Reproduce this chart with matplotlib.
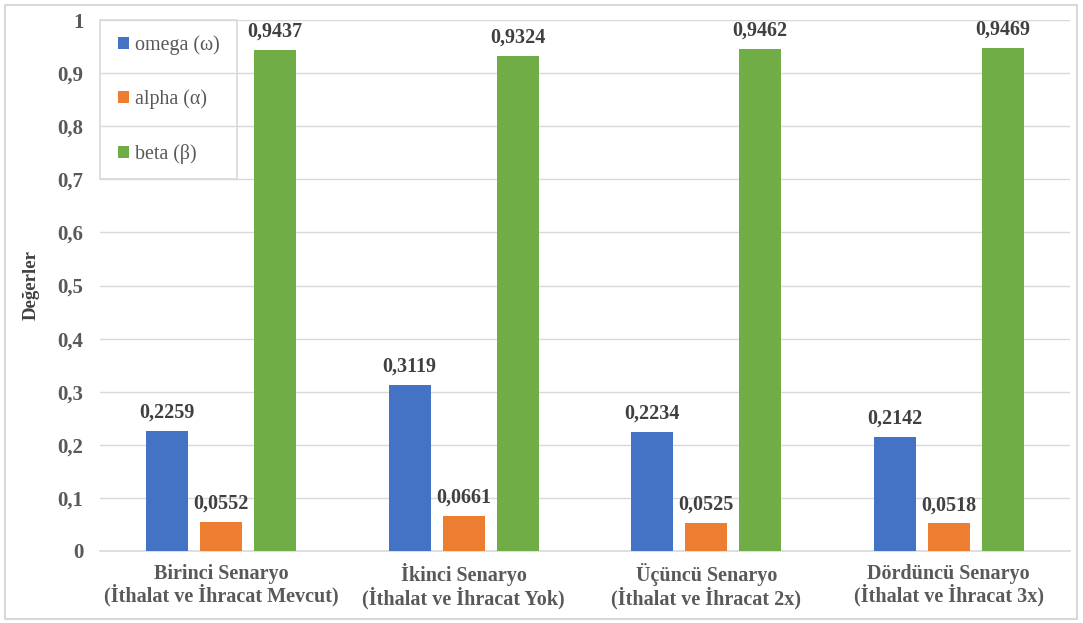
import matplotlib
matplotlib.use("Agg")
import matplotlib.pyplot as plt
from matplotlib.patches import Rectangle
import numpy as np

plt.rcParams['font.family'] = ['Liberation Serif', 'DejaVu Serif']

categories = [
    "Birinci Senaryo\n(İthalat ve İhracat Mevcut)",
    "İkinci Senaryo\n(İthalat ve İhracat Yok)",
    "Üçüncü Senaryo\n(İthalat ve İhracat 2x)",
    "Dördüncü Senaryo\n(İthalat ve İhracat 3x)",
]
series_names = ["omega (ω)", "alpha (α)", "beta (β)"]
omega = [0.2259, 0.3119, 0.2234, 0.2142]
alpha = [0.0552, 0.0661, 0.0525, 0.0518]
beta = [0.9437, 0.9324, 0.9462, 0.9469]
y_ticks = [0, 0.1, 0.2, 0.3, 0.4, 0.5, 0.6, 0.7, 0.8, 0.9, 1]

colors = ["#4472C4", "#ED7D31", "#70AD47"]
grid_c = "#D9D9D9"

fig = plt.figure(figsize=(10.83, 6.23), dpi=100)
ax = fig.add_axes([100 / 1083, 72 / 623, 970 / 1083, 531 / 623])

x = np.arange(len(categories))
width = 0.173
step = 0.2227
handles = []
for i, (vals, c) in enumerate(zip([omega, alpha, beta], colors)):
    bars = ax.bar(x + (i - 1) * step, vals, width, color=c, zorder=3)
    handles.append(bars)
    for b, v in zip(bars, vals):
        ax.annotate(f"{v:.4f}".replace(".", ","),
                    (b.get_x() + b.get_width() / 2, v),
                    xytext=(0, 6), textcoords="offset points",
                    ha="center", va="bottom", fontsize=14.5,
                    fontweight="bold", color="#404040")

ax.set_xlim(-0.5, len(categories) - 0.5)
ax.set_ylim(0, 1)
ax.set_yticks(y_ticks)
ax.set_yticklabels([("%g" % t).replace(".", ",") for t in y_ticks],
                   fontsize=15, fontweight="bold", color="#595959")
ax.set_xticks(x)
ax.set_xticklabels(categories, fontsize=14.5, fontweight="bold",
                   color="#595959", linespacing=1.0)
ax.tick_params(axis="both", length=0)
ax.tick_params(axis="y", pad=12)
ax.tick_params(axis="x", pad=9)
ax.grid(axis="y", color=grid_c, lw=1, zorder=0)
for s in ["top", "right", "left"]:
    ax.spines[s].set_visible(False)
ax.spines["bottom"].set_color(grid_c)
ax.spines["bottom"].set_linewidth(1.2)

ax.set_ylabel("Değerler", fontsize=13.5, fontweight="bold", color="#404040")
ax.yaxis.set_label_coords(-60 / 970, 0.5)

# legend box spanning the upper-left grid cells
lw_frac = 137 / 970
ax.add_patch(Rectangle((0, 0.7), lw_frac, 0.3, transform=ax.transAxes,
                       fill=False, edgecolor=grid_c, lw=1.2, zorder=4,
                       clip_on=False))
leg = ax.legend(handles, series_names, loc="center",
                bbox_to_anchor=(0, 0.7, lw_frac, 0.3),
                bbox_transform=ax.transAxes, frameon=False,
                fontsize=14.4, handlelength=0.55, handleheight=0.55,
                handletextpad=0.3, labelspacing=1.75, labelcolor="#595959")

# outer chart border
fig.add_artist(Rectangle((5 / 1083, 4 / 623), 1072 / 1083, 614 / 623,
                         transform=fig.transFigure, fill=False,
                         edgecolor=grid_c, lw=1.5))

fig.savefig("out.png", dpi=100)
